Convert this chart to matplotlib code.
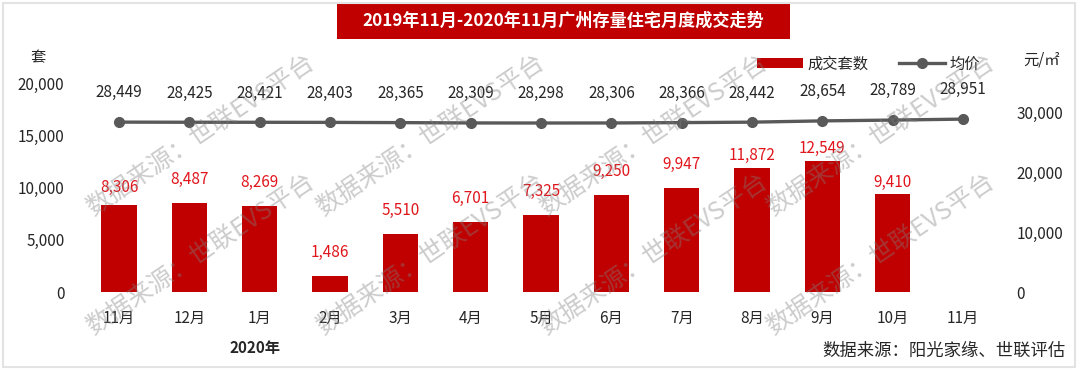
"""
Guangzhou resale housing: monthly transactions (bars) and average price (line),
Nov 2019 - Nov 2020. Saves out.png.
"""

import matplotlib.pyplot as plt
import numpy as np
from matplotlib.patches import Rectangle

plt.rcParams["font.family"] = ["Noto Sans CJK SC", "DejaVu Sans"]

# Data
months = ["11月", "12月", "1月", "2月", "3月", "4月", "5月",
          "6月", "7月", "8月", "9月", "10月", "11月"]
deals = [8306, 8487, 8269, 1486, 5510, 6701, 7325, 9250, 9947, 11872, 12549, 9410]
avg_price = [28449, 28425, 28421, 28403, 28365, 28309, 28298,
             28306, 28366, 28442, 28654, 28789, 28951]
left_ticks = [0, 5000, 10000, 15000, 20000]
right_ticks = [0, 10000, 20000, 30000]

BAR_RED = "#C00000"
LABEL_RED = "#E0161C"
LINE_GREY = "#595959"
TEXT = "#262626"

fig = plt.figure(figsize=(10.8, 3.7), dpi=100)
ax = fig.add_axes([0.0776, 0.2108, 0.8467, 0.5649])
ax2 = ax.twinx()

# Bars: number of transactions
x_bars = np.arange(len(deals))
bars = ax.bar(x_bars, deals, width=0.5, color=BAR_RED, zorder=2, label="成交套数")
# label lift above bar tops (points), the reference nudges a few of them
label_lift = {0: 13, 9: 9, 10: 9, 11: 8}
for i, v in enumerate(deals):
    ax.annotate(f"{v:,}", (x_bars[i], v), xytext=(0, label_lift.get(i, 17)),
                textcoords="offset points", ha="center", va="center",
                fontsize=11, color=LABEL_RED, zorder=3)

ax.set_xlim(-0.5, len(months) - 0.5)
ax.set_ylim(0, 20000)
ax.set_yticks(left_ticks)
ax.set_yticklabels([f"{t:,}" for t in left_ticks])
ax.set_xticks(np.arange(len(months)))
ax.set_xticklabels(months)

# Line: average price
x_line = np.arange(len(avg_price))
line, = ax2.plot(x_line, avg_price, color=LINE_GREY, lw=2.4, marker="o",
                 markersize=7, zorder=4, label="均价")
for i, v in enumerate(avg_price):
    ax2.annotate(f"{v:,}", (x_line[i], v), xytext=(0, 21),
                 textcoords="offset points", ha="center", va="center",
                 fontsize=11, color=TEXT)
ax2.set_ylim(0, 35000)
ax2.set_yticks(right_ticks)
ax2.set_yticklabels([f"{t:,}" for t in right_ticks])

for a in (ax, ax2):
    for s in a.spines.values():
        s.set_visible(False)
    a.tick_params(length=0, labelsize=11, colors=TEXT)
ax.tick_params(axis="y", pad=14)
ax.tick_params(axis="x", pad=13)
ax2.tick_params(axis="y", pad=13)
for lab in ax2.get_yticklabels():
    lab.set_horizontalalignment("left")

# Legend
ax.legend(handles=[bars, line], loc="center", bbox_to_anchor=(0.804, 0.827),
          bbox_transform=fig.transFigure, ncol=2, frameon=False, fontsize=11,
          handlelength=3.0, handleheight=0.6, columnspacing=2.0,
          handletextpad=0.3, labelcolor=TEXT)

# Axis unit labels and notes
fig.text(38 / 1080, 1 - 58 / 370, "套", ha="center", va="center",
         fontsize=11, color=TEXT)
fig.text(1042 / 1080, 1 - 60 / 370, "元/㎡", ha="center", va="center",
         fontsize=11, color=TEXT)
fig.text(255 / 1080, 1 - 348 / 370, "2020年", ha="center", va="center",
         fontsize=11, color=TEXT, fontweight="bold")
fig.text(1066 / 1080, 1 - 351 / 370, "数据来源：阳光家缘、世联评估", ha="right",
         va="center", fontsize=12.5, color=TEXT)

# Title banner
fig.patches.append(Rectangle((337 / 1080, 1 - 39 / 370), (790 - 337) / 1080,
                             36 / 370, transform=fig.transFigure,
                             facecolor=BAR_RED, edgecolor="none", zorder=1))
fig.text(563 / 1080, 1 - 21 / 370, "2019年11月-2020年11月广州存量住宅月度成交走势",
         ha="center", va="center", fontsize=12.3, fontweight="bold", color="white")

# Outer frame
fig.patches.append(Rectangle((3 / 1080, 3 / 370), 1072 / 1080, 364 / 370,
                             transform=fig.transFigure, facecolor="none",
                             edgecolor="#E3E3E3", lw=1.5))

# Watermarks
for cx in [200, 430, 653, 880]:
    for cy in [135, 254]:
        fig.text(cx / 1080, 1 - cy / 370, "数据来源：世联EVS平台", ha="center",
                 va="center", rotation=34, rotation_mode="anchor", fontsize=18,
                 color="#808080", alpha=0.4, zorder=10)

fig.savefig("out.png", dpi=100)
